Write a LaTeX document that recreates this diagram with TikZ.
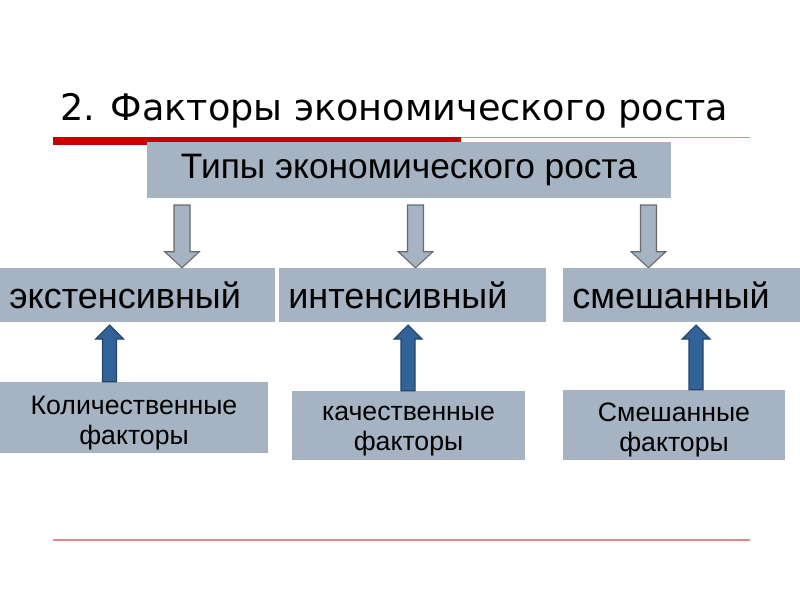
\documentclass[tikz,border=0pt]{standalone}
\usepackage{fontspec}
\setmainfont{Liberation Sans}
\newfontfamily\titlefont{DejaVu Sans}
\usetikzlibrary{calc}

\definecolor{boxgray}{RGB}{165,179,195}
\definecolor{arrowline}{RGB}{105,105,105}
\definecolor{upblue}{RGB}{49,99,153}
\definecolor{upblueline}{RGB}{38,68,105}
\definecolor{barred}{RGB}{200,0,0}
\definecolor{rulered}{RGB}{222,136,136}

% block arrow: style, from, to, shaft half width, head half width, head length
\newcommand{\blockarrow}[6]{%
  \coordinate (ba) at ($(#3)!#6!(#2)$);
  \draw[#1] ($(#2)!#4!90:(#3)$) -- ($(ba)!#4!-90:(#2)$) -- ($(ba)!#5!-90:(#2)$) -- (#3)
    -- ($(ba)!#5!90:(#2)$) -- ($(ba)!#4!90:(#2)$) -- ($(#2)!#4!-90:(#3)$) -- cycle ;}

\tikzset{
  box/.style={fill=boxgray, inner sep=0pt, font=\fontsize{26.5}{30}\selectfont},
  typebox/.style={box, inner xsep=7pt, align=left, minimum height=40.5pt, font=\fontsize{27}{30}\selectfont},
  factbox/.style={fill=boxgray, inner sep=0pt},
  facttext/.style={align=center, inner sep=0pt, yshift=-4pt, font=\fontsize{20}{22.5}\selectfont},
  downarr/.style={fill=boxgray, draw=arrowline, line width=0.8pt, line join=miter},
  uparr/.style={fill=upblue, draw=upblueline, line width=0.8pt, line join=miter}
}

\begin{document}
\begin{tikzpicture}[x=0.75pt,y=0.75pt,yscale=-1,xscale=1]
    \useasboundingbox (0,0) rectangle (800,600);

    %Straight Lines
    \fill[barred] (53,137) rectangle (461,145) ;
    \draw[rulered, line width=0.9pt] (461,137.5) -- (750,137.5) ;
    \draw[rulered, line width=1.2pt] (53,540) -- (750,540) ;

    % Text Node
    \node (title) [anchor=base west, inner sep=0pt, font=\titlefont\fontsize{27.45}{30}\selectfont] at (60,120) {2. Факторы экономического роста};

    %Shape: Rectangle
    \node (types) [box, minimum width=393pt, minimum height=42pt] at (409,170) {Типы экономического роста};

    %Shape: Rectangle
    \node (ext) [typebox, text width=192.25pt] at (137.5,295) {экстенсивный};
    \node (int) [typebox, text width=186.25pt] at (412.5,295) {интенсивный};
    \node (mix) [typebox, text width=171.25pt] at (686.5,295) {смешанный};

    %Shape: Rectangle
    \node (qty) [factbox, minimum width=201pt, minimum height=53.25pt,
      label={[facttext]center:{Количественные\\факторы}}] at (134,417.5) {};
    \node (qual) [factbox, minimum width=174.75pt, minimum height=51.75pt,
      label={[facttext]center:{качественные\\факторы}}] at (408.5,425.5) {};
    \node (mixf) [factbox, minimum width=166.5pt, minimum height=52.5pt,
      label={[facttext]center:{Смешанные\\факторы}}] at (674,425) {};

    %Block Arrows down
    \coordinate (d1t) at (182,205) ;
    \coordinate (d2t) at (415.5,205) ;
    \coordinate (d3t) at (648.5,205) ;
    \coordinate (d1b) at (d1t |- ext.north) ;
    \coordinate (d2b) at (d2t |- int.north) ;
    \coordinate (d3b) at (d3t |- mix.north) ;
    \blockarrow{downarr}{d1t}{d1b}{6pt}{13pt}{12pt}
    \blockarrow{downarr}{d2t}{d2b}{6pt}{13pt}{12pt}
    \blockarrow{downarr}{d3t}{d3b}{6pt}{13pt}{12pt}

    %Block Arrows up
    \coordinate (u1t) at (109.5,325) ;
    \coordinate (u2t) at (408,325) ;
    \coordinate (u3t) at (696,325) ;
    \coordinate (u1b) at (u1t |- qty.north) ;
    \coordinate (u2b) at (u2t |- qual.north) ;
    \coordinate (u3b) at (u3t |- mixf.north) ;
    \blockarrow{uparr}{u1b}{u1t}{5.25pt}{10.5pt}{10.5pt}
    \blockarrow{uparr}{u2b}{u2t}{5.25pt}{10.5pt}{10.5pt}
    \blockarrow{uparr}{u3b}{u3t}{5.25pt}{10.5pt}{10.5pt}

\end{tikzpicture}
\end{document}
